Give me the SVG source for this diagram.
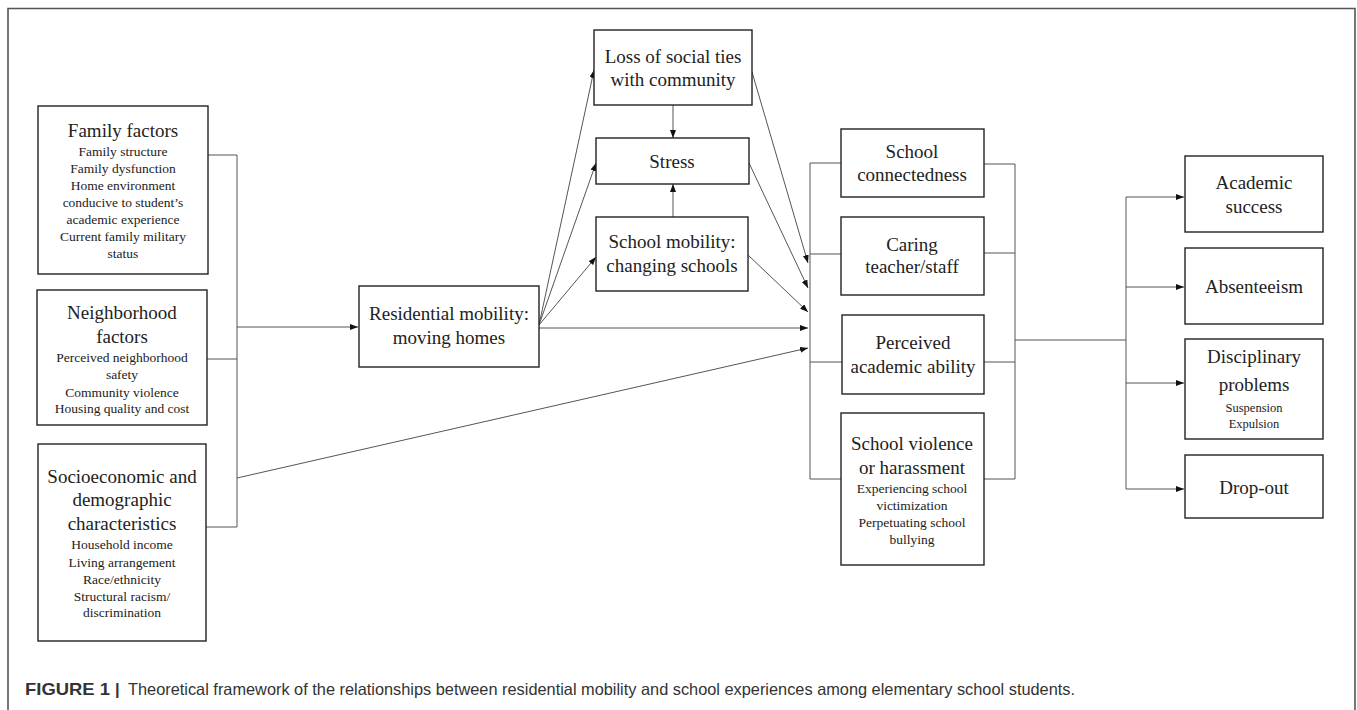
<svg xmlns="http://www.w3.org/2000/svg" width="1357" height="710" viewBox="0 0 1357 710">
<defs>
<marker id="ah" viewBox="0 0 8 6" refX="8" refY="3" markerWidth="8" markerHeight="6" orient="auto" markerUnits="userSpaceOnUse"><path d="M0,0 L8,3 L0,6 z" fill="#111"/></marker>
<style>
.box{fill:#fff;stroke:#222;stroke-width:1.4}
.t{font-family:"Liberation Serif","Times New Roman",serif;font-size:19px;fill:#222;text-anchor:middle}
.s{font-family:"Liberation Serif","Times New Roman",serif;font-size:13.5px;fill:#222;text-anchor:middle}
.c{fill:none;stroke:#555;stroke-width:1}
.a{fill:none;stroke:#555;stroke-width:1;marker-end:url(#ah)}
.cap{font-family:"Liberation Sans",Arial,sans-serif;font-size:16.5px;fill:#333}
</style>
</defs>
<rect width="1357" height="710" fill="#fff"/>
<path d="M8,710 V8.5 H1355 V710" fill="none" stroke="#555" stroke-width="1.6"/>

<g id="connectors">
<path class="c" d="M208,155 H237 V527 H206 M207,359 H237"/>
<path class="a" d="M237,327 H358"/>
<path class="a" d="M237,478 L808,348"/>
<path class="a" d="M539,325 L594,70"/>
<path class="a" d="M539,325 L596,163"/>
<path class="a" d="M539,325 L596,257"/>
<path class="a" d="M539,328 H808"/>
<path class="a" d="M673,105 V138"/>
<path class="a" d="M673,217 V184"/>
<path class="a" d="M752,72 L808,263"/>
<path class="a" d="M749,163 L808,288"/>
<path class="a" d="M748,255 L808,312"/>
<path class="c" d="M841,163 H810 V479 H841 M810,254 H841 M810,362 H842"/>
<path class="c" d="M984,164 H1015 V479 H984 M984,253 H1015 M984,362 H1015 M1015,340 H1126"/>
<path class="c" d="M1126,197 V489"/>
<path class="a" d="M1126,197 H1184"/>
<path class="a" d="M1126,287 H1184"/>
<path class="a" d="M1126,383 H1184"/>
<path class="a" d="M1126,489 H1184"/>
</g>

<g id="family">
<rect class="box" x="38" y="106" width="170" height="168"/>
<text class="t" x="123" y="137">Family factors</text>
<text class="s" x="123" y="155.5">Family structure</text>
<text class="s" x="123" y="172.5">Family dysfunction</text>
<text class="s" x="123" y="189.5">Home environment</text>
<text class="s" x="123" y="206.5">conducive to student’s</text>
<text class="s" x="123" y="223.5">academic experience</text>
<text class="s" x="123" y="240.5">Current family military</text>
<text class="s" x="123" y="257.5">status</text>
</g>

<g id="neighborhood">
<rect class="box" x="37" y="290" width="170" height="135"/>
<text class="t" x="122" y="319">Neighborhood</text>
<text class="t" x="122" y="343">factors</text>
<text class="s" x="122" y="361.5">Perceived neighborhood</text>
<text class="s" x="122" y="379">safety</text>
<text class="s" x="122" y="396.5">Community violence</text>
<text class="s" x="122" y="412.5">Housing quality and cost</text>
</g>

<g id="socio">
<rect class="box" x="38" y="444" width="168" height="197"/>
<text class="t" x="122" y="483">Socioeconomic and</text>
<text class="t" x="122" y="506">demographic</text>
<text class="t" x="122" y="530">characteristics</text>
<text class="s" x="122" y="548.5">Household income</text>
<text class="s" x="122" y="566.5">Living arrangement</text>
<text class="s" x="122" y="583.5">Race/ethnicity</text>
<text class="s" x="122" y="600.5">Structural racism/</text>
<text class="s" x="122" y="616.5">discrimination</text>
</g>

<g id="residential">
<rect class="box" x="359" y="286" width="180" height="81"/>
<text class="t" x="449" y="320">Residential mobility:</text>
<text class="t" x="449" y="344">moving homes</text>
</g>

<g id="loss">
<rect class="box" x="594" y="30" width="158" height="75"/>
<text class="t" x="673" y="63">Loss of social ties</text>
<text class="t" x="673" y="86">with community</text>
</g>

<g id="stress">
<rect class="box" x="596" y="138" width="153" height="46"/>
<text class="t" x="672" y="168">Stress</text>
</g>

<g id="schoolmobility">
<rect class="box" x="596" y="217" width="152" height="74"/>
<text class="t" x="672" y="248">School mobility:</text>
<text class="t" x="672" y="272">changing schools</text>
</g>

<g id="connectedness">
<rect class="box" x="841" y="129" width="143" height="68"/>
<text class="t" x="912" y="158">School</text>
<text class="t" x="912" y="181">connectedness</text>
</g>

<g id="caring">
<rect class="box" x="841" y="217" width="143" height="78"/>
<text class="t" x="912" y="251">Caring</text>
<text class="t" x="912" y="273">teacher/staff</text>
</g>

<g id="perceived">
<rect class="box" x="842" y="315" width="142" height="79"/>
<text class="t" x="913" y="349">Perceived</text>
<text class="t" x="913" y="373">academic ability</text>
</g>

<g id="violence">
<rect class="box" x="841" y="413" width="143" height="152"/>
<text class="t" x="912" y="450">School violence</text>
<text class="t" x="912" y="474">or harassment</text>
<text class="s" x="912" y="492.5">Experiencing school</text>
<text class="s" x="912" y="509.5">victimization</text>
<text class="s" x="912" y="526.5">Perpetuating school</text>
<text class="s" x="912" y="543.5">bullying</text>
</g>

<g id="academic">
<rect class="box" x="1185" y="156" width="138" height="76"/>
<text class="t" x="1254" y="189">Academic</text>
<text class="t" x="1254" y="213">success</text>
</g>

<g id="absenteeism">
<rect class="box" x="1185" y="248" width="138" height="76"/>
<text class="t" x="1254" y="293">Absenteeism</text>
</g>

<g id="disciplinary">
<rect class="box" x="1185" y="339" width="138" height="100"/>
<text class="t" x="1254" y="363">Disciplinary</text>
<text class="t" x="1254" y="391">problems</text>
<text class="s" x="1254" y="411.5" style="font-size:12.5px">Suspension</text>
<text class="s" x="1254" y="427.5" style="font-size:12.5px">Expulsion</text>
</g>

<g id="dropout">
<rect class="box" x="1185" y="455" width="138" height="63"/>
<text class="t" x="1254" y="494">Drop-out</text>
</g>

<g id="caption">
<text class="cap" x="25" y="695" font-weight="bold" fill="#222" textLength="85" lengthAdjust="spacingAndGlyphs">FIGURE 1</text>
<text class="cap" x="115" y="695" font-weight="bold">|</text>
<text class="cap" x="128" y="695" textLength="947" lengthAdjust="spacingAndGlyphs">Theoretical framework of the relationships between residential mobility and school experiences among elementary school students.</text>
</g>
</svg>
